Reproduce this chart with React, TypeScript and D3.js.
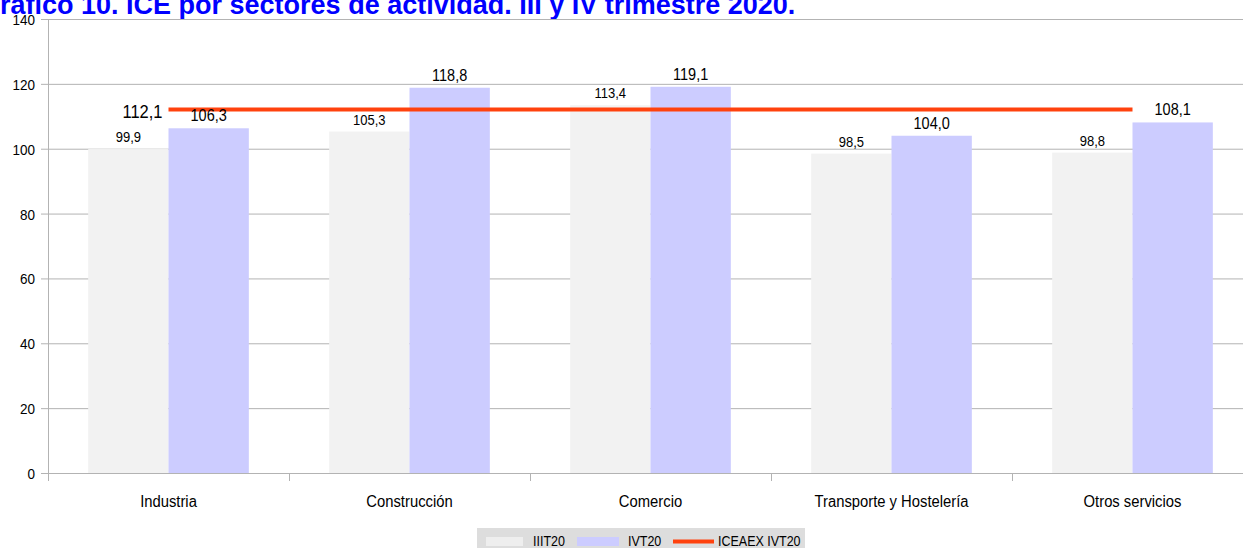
import React from "react";
import * as d3 from "d3";

const categories = ["Industria", "Construcción", "Comercio", "Transporte y Hostelería", "Otros servicios"];
const seriesNames = ["IIIT20", "IVT20"];
const valuesIII = [99.9, 105.3, 113.4, 98.5, 98.8];
const valuesIV = [106.3, 118.8, 119.1, 104.0, 108.1];
const lineName = "ICEAEX IVT20";
const lineValue = 112.1;
const yTicks = [0, 20, 40, 60, 80, 100, 120, 140];
const title = "Gráfico 10. ICE por sectores de actividad. III y IV trimestre 2020.";

const W = 1243;
const H = 548;
const FONT = "'Liberation Sans', Arial, sans-serif";
const colors = ["#f2f2f2", "#ccccff"];
const red = "#ff420e";
const grid = "#b3b3b3";
const SX = 0.88;

const fmt = (v: number) => v.toFixed(1).replace(".", ",");

function NText(props: { x: number; y: number; size: number; anchor?: string; children: React.ReactNode }) {
  return (
    <g transform={`translate(${props.x},${props.y}) scale(${SX},1)`}>
      <text x={0} y={0} fontSize={props.size / SX} textAnchor={props.anchor || "start"} fill="#000">
        {props.children}
      </text>
    </g>
  );
}

export default function App() {
  const left = 48;
  const right = 1253;
  const top = 19;
  const bottom = 473;
  const x = d3.scaleBand<string>().domain(categories).range([left, right]).paddingInner(0).paddingOuter(0);
  const xs = d3.scaleBand<string>().domain(seriesNames).range([0, x.bandwidth()]).paddingInner(0).paddingOuter(0.5);
  const y = d3.scaleLinear().domain([0, 140]).range([bottom, top]);
  const series = [valuesIII, valuesIV];
  const lineY = y(lineValue);
  const x0 = (x(categories[0]) as number) + x.bandwidth() / 2;
  const x1 = (x(categories[categories.length - 1]) as number) + x.bandwidth() / 2;

  return (
    <svg width={W} height={H} style={{ position: "absolute", left: 0, top: 0, background: "#fff" }} fontFamily={FONT}>
      <text x={-21} y={13.5} fontWeight="bold" fontSize={27} fill="#0000ff">
        {title}
      </text>
      {yTicks.map((t) => (
        <g key={t}>
          <line x1={41} x2={right} y1={y(t) + 0.5} y2={y(t) + 0.5} stroke={grid} strokeWidth={1} />
          <NText x={35} y={y(t) + 6} size={13.5} anchor="end">
            {t}
          </NText>
        </g>
      ))}
      <line x1={left + 0.5} x2={left + 0.5} y1={top} y2={bottom + 8} stroke={grid} />
      {categories.map((c, i) => (
        <g key={c}>
          {i > 0 && (
            <line x1={(x(c) as number) + 0.5} x2={(x(c) as number) + 0.5} y1={bottom} y2={bottom + 8} stroke={grid} />
          )}
          <NText x={(x(c) as number) + x.bandwidth() / 2} y={507} size={14.8} anchor="middle">
            {c}
          </NText>
        </g>
      ))}
      {series.map((vals, s) =>
        categories.map((c, i) => {
          const bx = (x(c) as number) + (xs(seriesNames[s]) as number);
          return (
            <rect key={s + "-" + c} x={bx} y={y(vals[i])} width={xs.bandwidth()} height={bottom - y(vals[i])} fill={colors[s]} />
          );
        })
      )}
      <line x1={left} x2={right} y1={bottom + 0.5} y2={bottom + 0.5} stroke={grid} />
      <line x1={x0} x2={x1} y1={lineY} y2={lineY} stroke={red} strokeWidth={4} />
      {series.map((vals, s) =>
        categories.map((c, i) => {
          const cx = (x(c) as number) + (xs(seriesNames[s]) as number) + xs.bandwidth() / 2;
          return (
            <NText key={"l" + s + c} x={cx} y={y(vals[i]) - 7} size={s === 0 ? 13 : 14.5} anchor="middle">
              {fmt(vals[i])}
            </NText>
          );
        })
      )}
      <NText x={x0 - 6} y={lineY + 8.5} size={16.5} anchor="end">
        {fmt(lineValue)}
      </NText>
      <g>
        <rect x={477} y={528} width={328} height={22} fill="#dddddd" />
        <rect x={486} y={537} width={37} height={9} fill="#eeeeee" />
        <NText x={533} y={546} size={12.5}>{seriesNames[0]}</NText>
        <rect x={577} y={537} width={42} height={9} fill={colors[1]} />
        <NText x={628} y={546} size={12.5}>{seriesNames[1]}</NText>
        <line x1={673} x2={714} y1={541.5} y2={541.5} stroke={red} strokeWidth={4} />
        <NText x={718} y={546} size={12.5}>{lineName}</NText>
      </g>
    </svg>
  );
}
